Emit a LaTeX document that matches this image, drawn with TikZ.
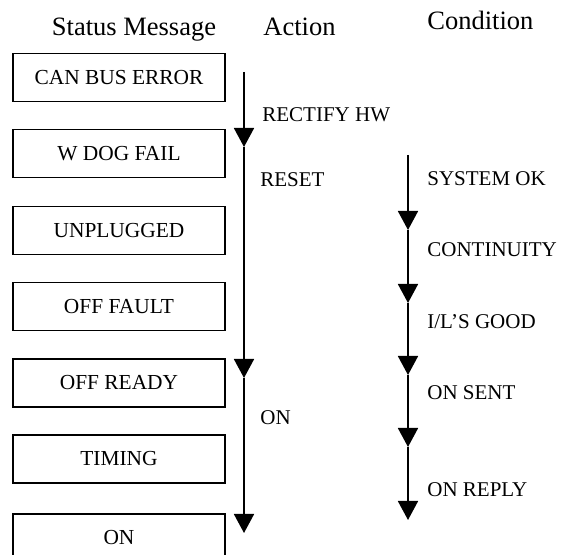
\documentclass[tikz,border=0pt]{standalone}
\usepackage{fontspec}
\setmainfont{Liberation Serif}
\usetikzlibrary{arrows.meta}
\begin{document}
\begin{tikzpicture}[x=0.5pt,y=-0.5pt,
 msgbox/.style={draw, line width=0.75pt, minimum width=106pt, minimum height=24pt, inner sep=0pt, font=\fontsize{10.7}{13}\selectfont},
 head/.style={font=\fontsize{13.25}{16}\selectfont, inner sep=0pt},
 lbl/.style={font=\fontsize{10.5}{13}\selectfont, inner sep=0pt, anchor=west},
 flow/.style={line width=0.85pt, -{Triangle[width=10pt,length=9.5pt]}}]
\clip (0,0) rectangle (563,555);
% headers
\node[head, anchor=base] (hstatus) at (134,36) {Status Message};
\node[head, anchor=base west] (haction) at (263,36) {Action};
\node[head, anchor=base west] (hcond) at (427,30) {Condition};
% status boxes
\node[msgbox] (b1) at (119,77.5) {CAN BUS ERROR};
\node[msgbox] (b2) at (119,153.5) {W DOG FAIL};
\node[msgbox] (b3) at (119,230.5) {UNPLUGGED};
\node[msgbox] (b4) at (119,306.5) {OFF FAULT};
\node[msgbox] (b5) at (119,383) {OFF READY};
\node[msgbox] (b6) at (119,459) {TIMING};
\node[msgbox] (b7) at (119,538) {ON};
% action arrow
\coordinate (a0) at (244,72);
\coordinate (a1) at (244,147);
\coordinate (a2) at (244,378);
\coordinate (a3) at (244,533);
\draw[flow] (a0) -- (a1);
\draw[flow] (a1) -- (a2);
\draw[flow] (a2) -- (a3);
\node[lbl] (lrect) at (262,115) {RECTIFY HW};
\node[lbl] (lreset) at (260,180) {RESET};
\node[lbl] (lon) at (260,418) {ON};
% condition arrow
\coordinate (c0) at (408,155);
\coordinate (c1) at (408,230);
\coordinate (c2) at (408,303);
\coordinate (c3) at (408,375);
\coordinate (c4) at (408,447);
\coordinate (c5) at (408,520);
\draw[flow] (c0) -- (c1);
\draw[flow] (c1) -- (c2);
\draw[flow] (c2) -- (c3);
\draw[flow] (c3) -- (c4);
\draw[flow] (c4) -- (c5);
\node[lbl] (lsys) at (427,179) {SYSTEM OK};
\node[lbl] (lcont) at (427,250) {CONTINUITY};
\node[lbl] (lil) at (427,322) {I/L’S GOOD};
\node[lbl] (lsent) at (427,393) {ON SENT};
\node[lbl] (lreply) at (427,490) {ON REPLY};
\end{tikzpicture}
\end{document}
